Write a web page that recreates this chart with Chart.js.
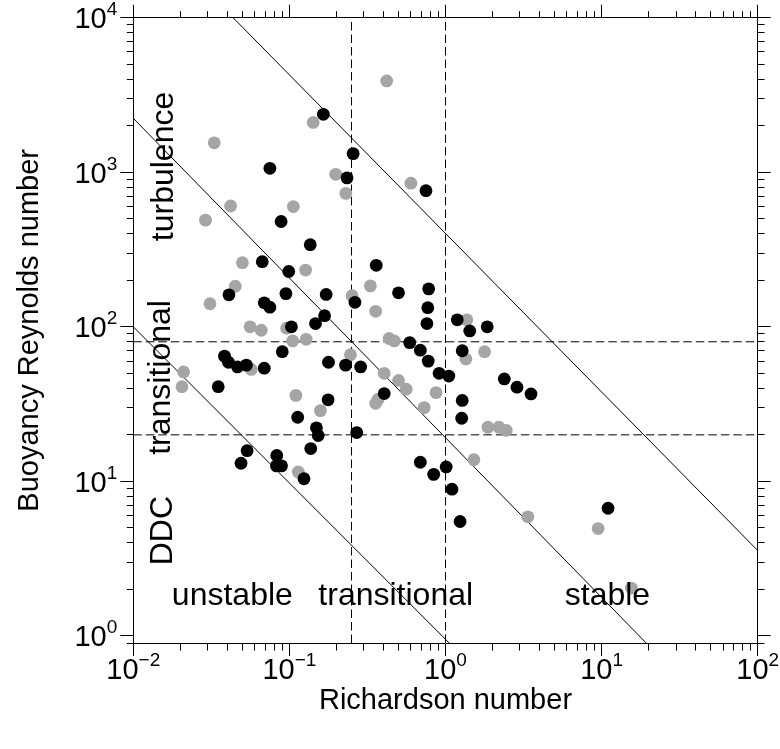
<!DOCTYPE html>
<html>
<head>
<meta charset="utf-8">
<script src="https://cdn.jsdelivr.net/npm/chart.js@4/dist/chart.umd.min.js"></script>
<style>
  html, body { margin: 0; padding: 0; background: #fff; }
  #chart { display: block; }
</style>
</head>
<body>
<canvas id="chart" width="780" height="749"></canvas>
<script>
// =================== DATA ===================
const grayRi = [0.42, 0.142, 0.033, 0.198, 0.60, 0.23, 0.042, 0.106, 0.029, 0.050, 0.127, 0.33, 0.045, 0.252, 0.031, 0.357, 0.056, 0.066, 0.096, 0.105, 0.128, 0.435, 0.47, 0.057, 0.021, 0.0205, 0.246, 0.405, 0.50, 0.56, 0.87, 0.37, 0.357, 0.73, 0.11, 0.158, 0.114, 1.37, 1.35, 1.78, 1.87, 2.2, 2.45, 1.52, 3.37, 9.5, 15.5];
const grayReb = [3900, 2100, 1550, 970, 850, 730, 605, 600, 490, 260, 233, 184, 183, 159, 141, 126, 100, 95, 98, 81, 83, 84, 81, 53, 51, 41, 66, 50, 45, 39.5, 37.5, 34, 32, 30, 36, 28.7, 11.5, 111, 62, 69, 22.4, 22.4, 21.4, 13.8, 5.9, 4.95, 2.04];

const blackRi = [0.165, 0.256, 0.075, 0.234, 0.75, 0.0885, 0.136, 0.067, 0.099, 0.36, 0.041, 0.095, 0.172, 0.50, 0.78, 0.263, 0.069, 0.075, 0.77, 0.168, 0.103, 0.147, 0.76, 1.19, 1.43, 1.85, 0.59, 0.69, 0.775, 0.91, 1.05, 1.28, 2.38, 2.87, 3.53, 1.28, 1.27, 0.090, 0.0384, 0.0407, 0.0465, 0.053, 0.069, 0.035, 0.178, 0.229, 0.286, 0.405, 0.177, 0.113, 0.149, 0.153, 0.27, 0.137, 0.0536, 0.049, 0.083, 0.0826, 0.089, 0.124, 0.69, 0.84, 1.01, 1.10, 1.24, 11.0];
const blackReb = [2370, 1320, 1060, 920, 760, 480, 340, 264, 228, 250, 161, 164, 162, 166, 176, 144, 143, 134, 133, 118, 100, 105, 105, 111, 94, 100, 79, 70.6, 60, 50, 48, 70, 46, 40.7, 36.8, 33.4, 25.6, 69, 64.6, 59, 55, 56.5, 54, 41, 59, 56.5, 55, 37, 33.7, 26, 22.2, 19.8, 20.7, 16.3, 15.8, 13.1, 14.7, 12.6, 12.6, 10.4, 13.3, 11.1, 12.4, 8.9, 5.5, 6.7];

// regime boundaries
const boundaryRi = [0.25, 1];
const boundaryReb = [20, 80];
const diagStartRi = [0.01, 0.01, 0.0436];
const diagStartReb = [100, 2234, 10000];
const diagEndRi = [1.056, 19.3, 100];
const diagEndReb = [0.9, 0.9, 3.57];

// axes
const xRange = [0.01, 100];
const yRange = [0.9, 10000];
const xDecades = [0.01, 0.1, 1, 10, 100];
const xTickExp = ["\u22122", "\u22121", "0", "1", "2"];
const yDecades = [1, 10, 100, 1000, 10000];
const yTickExp = ["0", "1", "2", "3", "4"];
const tickMultipliers = [2, 3, 4, 5, 6, 7, 8, 9];

// region labels
const regionText = ["turbulence", "transitional", "DDC", "unstable", "transitional", "stable"];
const regionRi = [0.0179, 0.0172, 0.0176, 0.0431, 0.48, 10.9];
const regionReb = [1090, 47, 4.8, 1.59, 1.59, 1.59];
const regionVertical = [true, true, true, false, false, false];

// =================== UTILITY ===================
const FONT = '"Liberation Sans", Arial, Helvetica, sans-serif';
const tickFont = `29px ${FONT}`;
const supFont = `19px ${FONT}`;
const regionFont = `32px ${FONT}`;

const toPoints = (xs, ys) => xs.map((x, i) => ({ x, y: ys[i] }));

function isMajor(value, decades) {
	return decades.some((d) => Math.abs(value / d - 1) < 1e-6);
}

function allTicks(decades, extra) {
	const minor = decades
		.slice(0, -1)
		.flatMap((d) => tickMultipliers.map((m) => Number((m * d).toPrecision(3))));
	return [...extra, ...decades, ...minor].sort((a, b) => a - b);
}

function logAxis(axis, position, range, decades, extra, size) {
	const outerFirst = position === "left" || position === "top";
	const minor = (c) => c.tick && !isMajor(c.tick.value, decades);
	return {
		type: "logarithmic",
		axis,
		position,
		min: range[0],
		max: range[1],
		ticks: { display: false },
		grid: {
			drawOnChartArea: false,
			drawTicks: true,
			tickLength: 13,
			tickColor: "#000",
			tickWidth: 1,
			tickBorderDash: (c) => (minor(c) ? (outerFirst ? [6.5, 6.5] : [6.5, 20]) : []),
			tickBorderDashOffset: (c) => (minor(c) && outerFirst ? 6.5 : 0),
		},
		border: { display: true, color: "#000", width: 1 },
		afterBuildTicks: (s) => {
			s.ticks = allTicks(decades, extra).map((v) => ({ value: v, major: isMajor(v, decades) }));
		},
		afterFit: (s) => {
			if (s.isHorizontal()) s.height = size;
			else s.width = size;
		},
	};
}

function drawPower(ctx, exp, x, baseline, align) {
	ctx.font = tickFont;
	const wb = ctx.measureText("10").width;
	ctx.font = supFont;
	const we = ctx.measureText(exp).width;
	const start = align === "right" ? x - wb - we : x - (wb + we) / 2;
	ctx.font = tickFont;
	ctx.fillText("10", start, baseline);
	ctx.font = supFont;
	ctx.fillText(exp, start + wb, baseline - 13);
}

// tick labels (10^n) and region names
const labelPlugin = {
	id: "powerLabels",
	afterDraw(chart) {
		const { ctx, scales } = chart;
		const { x, y } = scales;
		ctx.save();
		ctx.fillStyle = "#000";
		ctx.textAlign = "left";
		ctx.textBaseline = "alphabetic";
		yDecades.forEach((v, i) => {
			drawPower(ctx, yTickExp[i], y.right - 16, y.getPixelForValue(v) + 10.4, "right");
		});
		xDecades.forEach((v, i) => {
			drawPower(ctx, xTickExp[i], x.getPixelForValue(v), 679, "center");
		});

		ctx.font = regionFont;
		ctx.textAlign = "center";
		regionText.forEach((t, i) => {
			const px = x.getPixelForValue(regionRi[i]);
			const py = y.getPixelForValue(regionReb[i]);
			ctx.save();
			ctx.translate(px, py);
			if (regionVertical[i]) ctx.rotate(-Math.PI / 2);
			ctx.fillText(t, 0, 0);
			ctx.restore();
		});
		ctx.restore();
	},
};

// =================== CHART ===================
Chart.defaults.font.family = FONT;
Chart.defaults.color = "#000";

const lineDatasets = [];
boundaryRi.forEach((ri) => {
	lineDatasets.push({
		data: [{ x: ri, y: yRange[0] }, { x: ri, y: yRange[1] }],
		borderDash: [8.5, 4],
	});
});
boundaryReb.forEach((reb) => {
	lineDatasets.push({
		data: [{ x: xRange[0], y: reb }, { x: xRange[1], y: reb }],
		borderDash: [8.5, 4],
	});
});
diagStartRi.forEach((ri, i) => {
	lineDatasets.push({
		data: [{ x: ri, y: diagStartReb[i] }, { x: diagEndRi[i], y: diagEndReb[i] }],
		borderDash: [],
	});
});

new Chart(document.getElementById("chart"), {
	type: "scatter",
	data: {
		datasets: [
			{
				data: toPoints(blackRi, blackReb),
				backgroundColor: "#000",
				borderWidth: 0,
				pointRadius: 6.4,
				order: 0,
				xAxisID: "x",
				yAxisID: "y",
			},
			{
				data: toPoints(grayRi, grayReb),
				backgroundColor: "#a5a5a5",
				borderWidth: 0,
				pointRadius: 6.4,
				order: 1,
				xAxisID: "x",
				yAxisID: "y",
			},
			...lineDatasets.map((d) => ({
				...d,
				showLine: true,
				borderColor: "#000",
				borderWidth: 1,
				pointRadius: 0,
				order: 2,
				xAxisID: "x",
				yAxisID: "y",
			})),
		],
	},
	options: {
		responsive: false,
		devicePixelRatio: 1,
		animation: false,
		layout: { padding: { top: 17.7, right: 22.3, left: 0, bottom: 0 } },
		plugins: {
			legend: { display: false },
			tooltip: { enabled: false },
		},
		scales: {
			x: {
				...logAxis("x", "bottom", xRange, xDecades, [], 106),
				title: {
					display: true,
					text: "Richardson number",
					font: { size: 29 },
					color: "#000",
					padding: { top: 0, bottom: 31 },
				},
			},
			y: {
				...logAxis("y", "left", yRange, yDecades, [yRange[0]], 133.3),
				title: {
					display: true,
					text: "Buoyancy Reynolds number",
					font: { size: 29 },
					color: "#000",
					padding: { top: 12.6, bottom: 0 },
				},
			},
			xTop: logAxis("x", "top", xRange, xDecades, [], 0),
			yRight: logAxis("y", "right", yRange, yDecades, [yRange[0]], 0),
		},
	},
	plugins: [labelPlugin],
});
</script>
</body>
</html>
